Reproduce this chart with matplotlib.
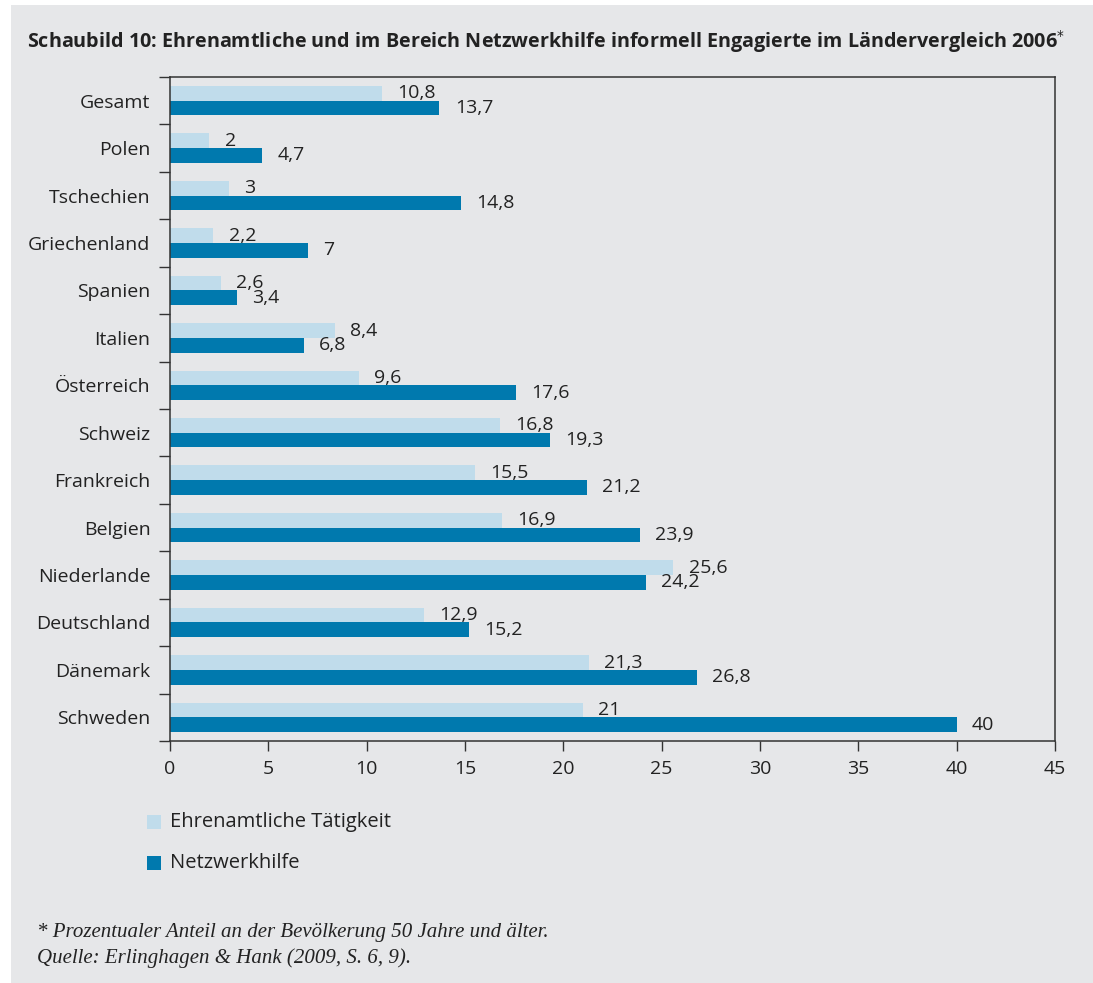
import numpy as np
import matplotlib
matplotlib.use('Agg')
from matplotlib import pyplot as plt
from matplotlib.patches import Rectangle

laender = ['Gesamt', 'Polen', 'Tschechien', 'Griechenland', 'Spanien', 'Italien',
           'Österreich', 'Schweiz', 'Frankreich', 'Belgien', 'Niederlande',
           'Deutschland', 'Dänemark', 'Schweden']
ehrenamt = [10.8, 2, 3, 2.2, 2.6, 8.4, 9.6, 16.8, 15.5, 16.9, 25.6, 12.9, 21.3, 21]
netzwerk = [13.7, 4.7, 14.8, 7, 3.4, 6.8, 17.6, 19.3, 21.2, 23.9, 24.2, 15.2, 26.8, 40]
xticks = [0, 5, 10, 15, 20, 25, 30, 35, 40, 45]

hell = '#c0dceb'
dunkel = '#0079ae'
grau = '#e6e7e9'
txt = '#222222'

plt.rcParams['font.family'] = ['Open Sans', 'DejaVu Sans']
serif = ['Liberation Serif', 'DejaVu Serif']

W, H = 1093, 983
fig = plt.figure(figsize=(W / 100, H / 100), dpi=100, facecolor=grau)
# weisser Rand oben und links
fig.patches.append(Rectangle((0, 0), 11 / W, 1, transform=fig.transFigure,
                             facecolor='white', edgecolor='none', zorder=-10))
fig.patches.append(Rectangle((0, 1 - 5 / H), 1, 5 / H, transform=fig.transFigure,
                             facecolor='white', edgecolor='none', zorder=-10))

ax = fig.add_axes([170 / W, 1 - 741 / H, (1055 - 170) / W, (741 - 77) / H])
ax.set_facecolor(grau)

y = np.arange(len(laender))
h = 0.31
ax.barh(y - h / 2, ehrenamt, height=h, color=hell, label='Ehrenamtliche Tätigkeit')
ax.barh(y + h / 2, netzwerk, height=h, color=dunkel, label='Netzwerkhilfe')

for i in range(len(laender)):
    ax.annotate(str(ehrenamt[i]).replace('.', ','), (ehrenamt[i], y[i] - h / 2),
                xytext=(11, 0), textcoords='offset points', va='center', ha='left',
                fontsize=14, color=txt)
    ax.annotate(str(netzwerk[i]).replace('.', ','), (netzwerk[i], y[i] + h / 2),
                xytext=(11, 0), textcoords='offset points', va='center', ha='left',
                fontsize=14, color=txt)

ax.set_xlim(0, 45)
ax.set_ylim(len(laender) - 0.5, -0.5)
ax.set_xticks(xticks)
ax.set_xticklabels([str(t) for t in xticks], fontsize=14, color=txt)
ax.tick_params(axis='x', length=7, width=1, color='#333333', pad=7)

ax.set_yticks(np.arange(len(laender) + 1) - 0.5)
ax.set_yticklabels([])
ax.tick_params(axis='y', which='major', length=8, width=1, color='#333333')
ax.set_yticks(y, minor=True)
ax.set_yticklabels(laender, minor=True, fontsize=14, color=txt)
ax.tick_params(axis='y', which='minor', length=0, pad=14)

for s in ax.spines.values():
    s.set_color('#333333')
    s.set_linewidth(1.1)

fig.text(27 / W, 1 - 42 / H,
         'Schaubild 10: Ehrenamtliche und im Bereich Netzwerkhilfe informell Engagierte im Ländervergleich 2006$^{*}$',
         fontsize=14.2, fontweight='bold', color=txt, va='center', ha='left')

# Legende von Hand
for k, (lab, col) in enumerate([('Ehrenamtliche Tätigkeit', hell), ('Netzwerkhilfe', dunkel)]):
    yc = 822 + k * 41
    fig.patches.append(Rectangle((147 / W, 1 - (yc + 7) / H), 14 / W, 14 / H,
                                 transform=fig.transFigure, facecolor=col, edgecolor='none'))
    fig.text(170 / W, 1 - yc / H, lab, fontsize=14.5, color=txt, va='center', ha='left')

fig.text(37 / W, 1 - 933 / H, '* Prozentualer Anteil an der Bevölkerung 50 Jahre und älter.',
         fontsize=15, style='italic', family=serif, color=txt, va='center', ha='left')
fig.text(37 / W, 1 - 958 / H, 'Quelle: Erlinghagen & Hank (2009, S. 6, 9).',
         fontsize=15, style='italic', family=serif, color=txt, va='center', ha='left')

fig.savefig('out.png', dpi=100, facecolor=fig.get_facecolor())
